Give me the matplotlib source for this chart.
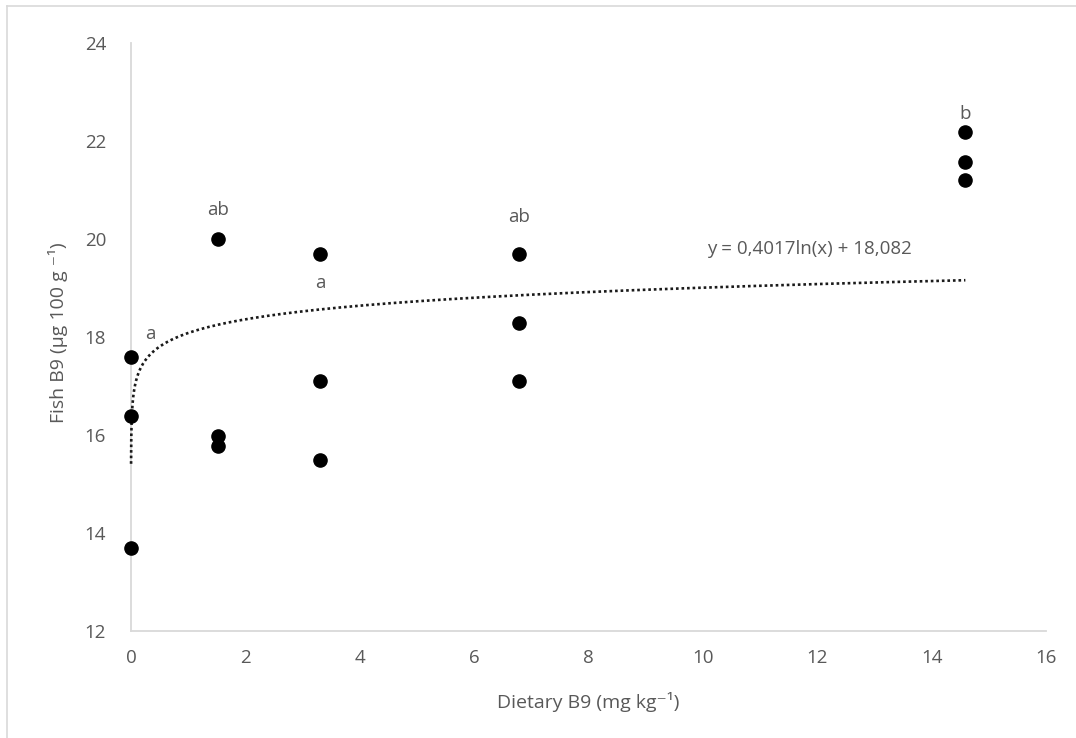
import numpy as np
import matplotlib
matplotlib.use("Agg")
import matplotlib.pyplot as plt
from matplotlib.lines import Line2D

# Data
dietary_x = [0.0013, 0.0013, 0.0013,
             1.52, 1.52, 1.52,
             3.31, 3.31, 3.31,
             6.78, 6.78, 6.78,
             14.59, 14.59, 14.59]
fish_y = [17.60, 16.38, 13.69,
          19.99, 15.98, 15.78,
          19.70, 17.10, 15.50,
          19.70, 18.29, 17.11,
          22.19, 21.57, 21.20]
group_x = [0.0013, 1.52, 3.31, 6.78, 14.59]
group_letters = ["a", "ab", "a", "ab", "b"]
group_letter_y = [18.07, 20.6, 19.1, 20.45, 22.55]
group_letter_dx = [0.33, 0.0, 0.0, 0.0, 0.0]
trend_a = 0.4017
trend_b = 18.082
xticks = [0, 2, 4, 6, 8, 10, 12, 14, 16]
yticks = [12, 14, 16, 18, 20, 22, 24]

fam = ['Open Sans', 'DejaVu Sans']
plt.rcParams['font.family'] = fam
grey = '#595959'
axis_grey = '#d9d9d9'

fig = plt.figure(figsize=(10.76, 7.38), dpi=100)
W, H = 1076, 738
ax = fig.add_axes([131 / W, 1 - 631 / H, (1046 - 131) / W, (631 - 43) / H])

# trendline
xt = np.geomspace(min(dietary_x), max(dietary_x), 600)
yt = trend_a * np.log(xt) + trend_b
ax.plot(xt, yt, linestyle=(0, (1, 1.1)), color='#1a1a1a', linewidth=1.9, zorder=3,
        clip_on=False)

ax.scatter(dietary_x, fish_y, s=90, color='black', zorder=4, clip_on=False)

for gx, lt, ly, dx in zip(group_x, group_letters, group_letter_y, group_letter_dx):
    ax.text(gx + dx, ly, lt, ha='center', va='center', fontsize=13.5, color=grey)

ax.text(11.86, 19.79, "y = 0,4017ln(x) + 18,082", ha='center', va='center',
        fontsize=13.5, color=grey)

ax.set_xlim(0, 16)
ax.set_ylim(12, 24)
ax.set_xticks(xticks)
ax.set_yticks(yticks)
ax.tick_params(axis='both', length=0, labelsize=13.5, labelcolor=grey)
ax.tick_params(axis='x', pad=13)
ax.tick_params(axis='y', pad=18)
for s in ['top', 'right']:
    ax.spines[s].set_visible(False)
for s in ['left', 'bottom']:
    ax.spines[s].set_color(axis_grey)
    ax.spines[s].set_linewidth(1.3)
    ax.spines[s].set_zorder(1)

fig.text(588 / W, 1 - 702 / H, "Dietary B9 (mg kg\u207b\u00b9)", ha='center', va='center',
         fontsize=14, color=grey, family=fam)
fig.text(58 / W, 1 - 333 / H, "Fish B9 (\u00b5g 100 g \u207b\u00b9)", ha='center', va='center',
         rotation=90, fontsize=14, color=grey, family=fam)

# outer border (left and top)
fig.add_artist(Line2D([7 / W, 7 / W], [0, 1 - 6 / H], transform=fig.transFigure,
                      color=axis_grey, linewidth=1.2))
fig.add_artist(Line2D([7 / W, 1], [1 - 6 / H, 1 - 6 / H], transform=fig.transFigure,
                      color=axis_grey, linewidth=1.2))

fig.savefig("out.png", dpi=100)
